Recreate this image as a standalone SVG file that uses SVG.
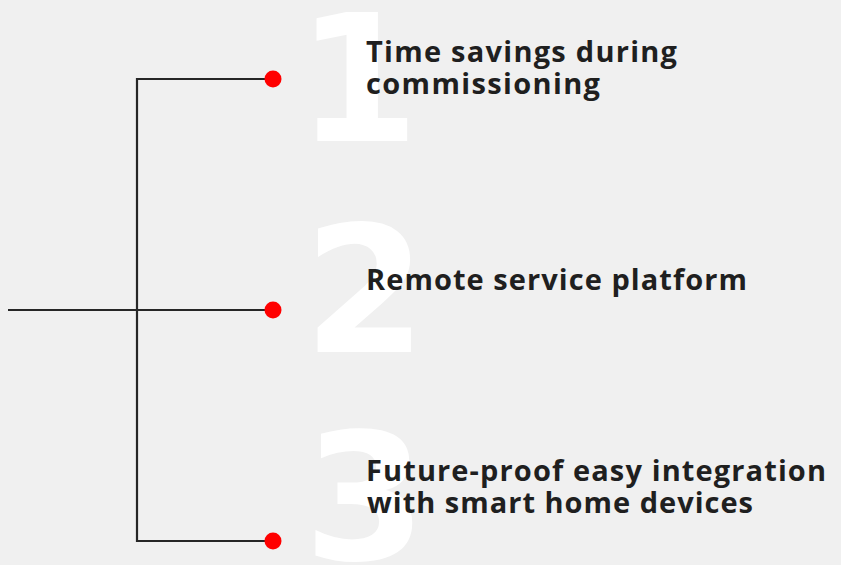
<svg xmlns="http://www.w3.org/2000/svg" width="841" height="565" viewBox="0 0 841 565">
<style>
.num{font-family:"DejaVu Sans",sans-serif;font-weight:bold;font-size:176px;fill:#ffffff;text-anchor:middle}
.lbl{font-family:"Open Sans","Noto Sans",sans-serif;font-weight:bold;font-size:29px;fill:#1f1f1f}
.ln{stroke:#262626;stroke-width:2.2;fill:none}
.dot{fill:#ff0000}
</style>
<rect width="841" height="565" fill="#f0f0f0"/>
<g id="connectors">
<path class="ln" d="M273 79H137V541H273"/>
<path class="ln" d="M8 310H273"/>
</g>
<g id="item1">
<text class="num" x="358" y="141">1</text>
<circle class="dot" cx="273" cy="79" r="8.5"/>
<text class="lbl" x="366" y="62" textLength="311" lengthAdjust="spacing">Time savings during</text>
<text class="lbl" x="366" y="94" textLength="234" lengthAdjust="spacing">commissioning</text>
</g>
<g id="item2">
<text class="num" x="365" y="352">2</text>
<circle class="dot" cx="273" cy="310" r="8.5"/>
<text class="lbl" x="366" y="290" textLength="381" lengthAdjust="spacing">Remote service platform</text>
</g>
<g id="item3">
<text class="num" x="365" y="560">3</text>
<circle class="dot" cx="273" cy="541" r="8.5"/>
<text class="lbl" x="366" y="481" textLength="460" lengthAdjust="spacing">Future-proof easy integration</text>
<text class="lbl" x="367" y="513" textLength="386" lengthAdjust="spacing">with smart home devices</text>
</g>
</svg>
